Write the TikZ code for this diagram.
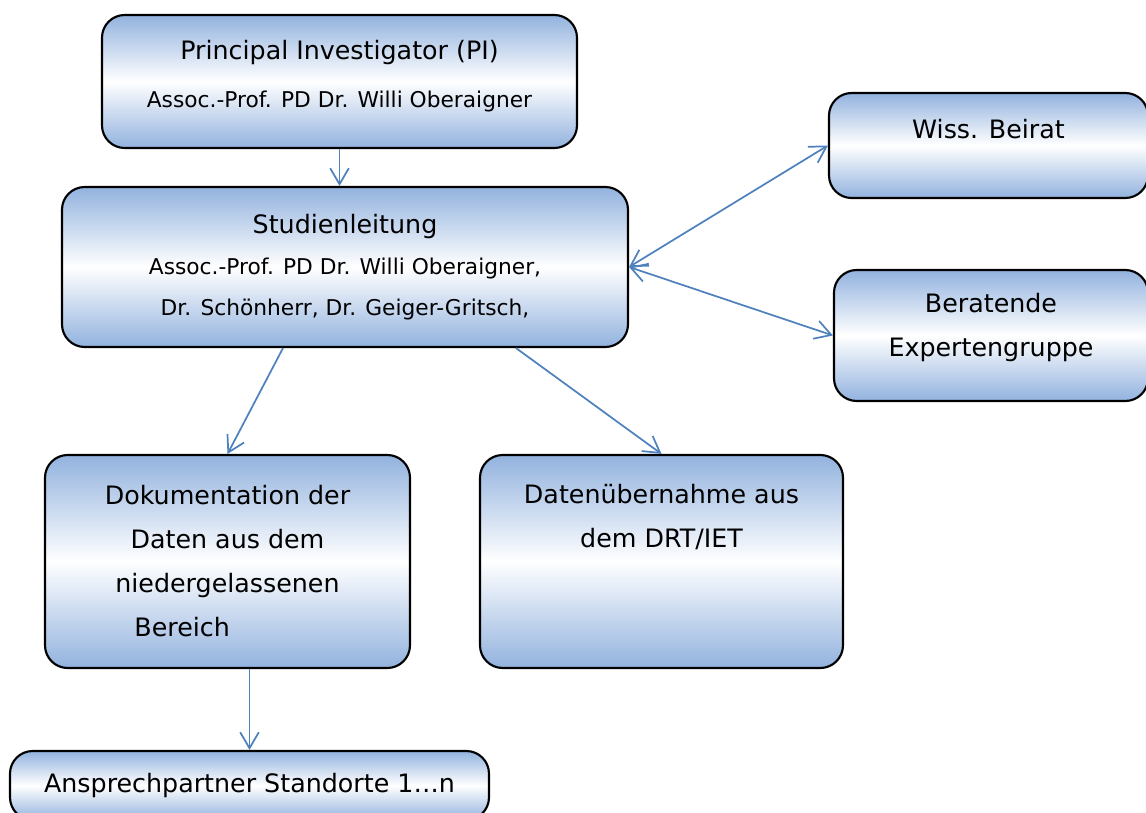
\documentclass[tikz,border=0pt]{standalone}
\usepackage{fontspec}
\setmainfont{DejaVu Sans}
\usetikzlibrary{arrows.meta}
\definecolor{boxblue}{RGB}{146,178,222}
\definecolor{linkblue}{RGB}{79,129,189}
\newcommand\smalltxt{\fontsize{16.3}{31}\selectfont}
\begin{document}
\begin{tikzpicture}[x=0.75pt,y=-0.75pt,
	box/.style={draw=black,line width=1.6pt,rounded corners=17pt,top color=boxblue,bottom color=boxblue,middle color=white,align=center,inner sep=0pt,font=\fontsize{19}{33}\selectfont},
	link/.style={draw=linkblue,line width=1.3pt,-{Straight Barb[length=12pt,width=14pt]}},
	twoway/.style={link,{Straight Barb[length=12pt,width=14pt]}-{Straight Barb[length=12pt,width=14pt]}}]
	\useasboundingbox (0,0) rectangle (1146,813);
	
	\node[box,minimum width=356.25pt,minimum height=99.75pt,text depth=11.3pt](pi)at(339.5,81.5){Principal Investigator (PI)\\[3pt]{\smalltxt Assoc.-Prof. PD Dr. Willi Oberaigner}};
	\node[box,minimum width=424.5pt,minimum height=120pt](lead)at(345,267){Studienleitung\\[-2.5pt]{\smalltxt Assoc.-Prof. PD Dr. Willi Oberaigner,}\\[-2.5pt]{\smalltxt Dr. Schönherr, Dr. Geiger-Gritsch,}};
	\node[box,minimum width=239.25pt,minimum height=78.75pt,text depth=25pt](board)at(988.5,145.5){Wiss. Beirat};
	\node[box,minimum width=235.5pt,minimum height=98.25pt,text depth=16.5pt](expert)at(991,335.5){Beratende\\Expertengruppe};
	\node[box,minimum width=273.75pt,minimum height=159.75pt](docu)at(227.5,561.5){Dokumentation der\\Daten aus dem\\niedergelassenen\\Bereich\hspace*{68pt}};
	\node[box,minimum width=272.25pt,minimum height=159.75pt,text depth=68.5pt](import)at(661.5,561.5){Datenübernahme aus\\dem DRT/IET};
	\node[box,minimum width=359.25pt,minimum height=51.75pt](contact)at(249.5,785.5){Ansprechpartner Standorte 1…n};
	
	\draw[link](pi.south)--(pi.south|-lead.north);
	\draw[twoway](lead.east)--(board.west);
	\draw[twoway](lead.east)--(expert.west);
	\draw[link]([shift={(-62,0)}]lead.south)--(docu.north);
	\draw[link]([shift={(171,0)}]lead.south)--(import.north);
	\draw[link](contact.north|-docu.south)--(contact.north);
\end{tikzpicture}
\end{document}
